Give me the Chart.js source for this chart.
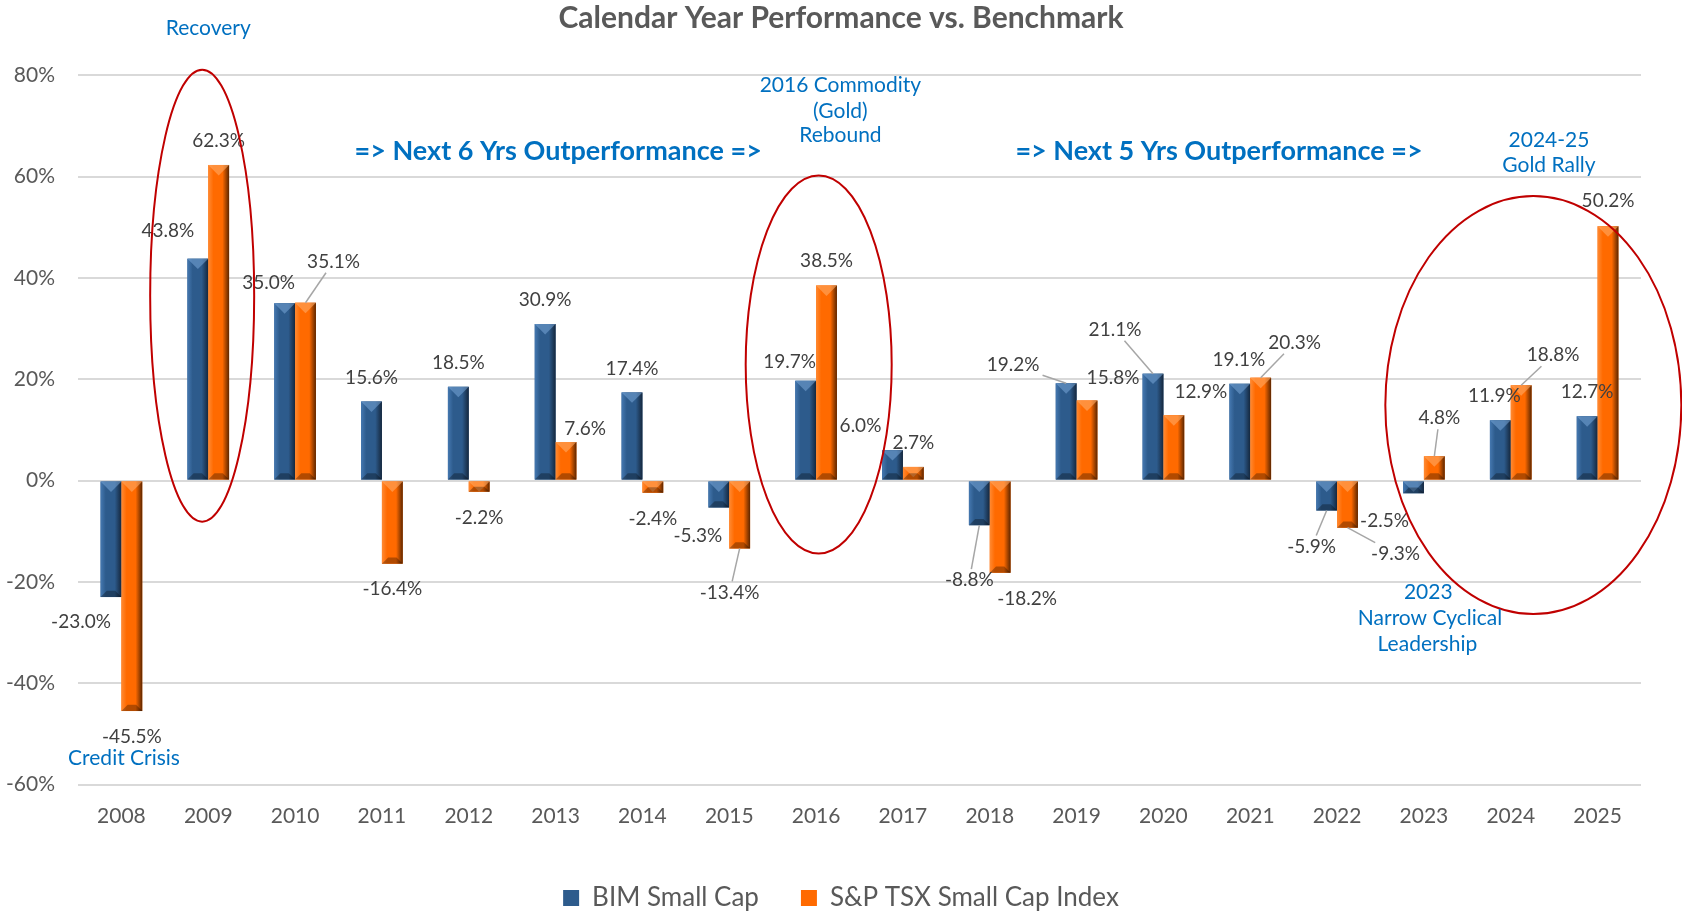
<!DOCTYPE html>
<html>
<head>
<meta charset="utf-8">
<title>Calendar Year Performance vs. Benchmark</title>
<script src="https://cdn.jsdelivr.net/npm/chart.js@4.4.1/dist/chart.umd.min.js"></script>
<style>
    html, body { margin: 0; padding: 0; background: #fff; }
    canvas { display: block; }
</style>
</head>
<body>
<canvas id="perf" width="1682" height="911"></canvas>
<script>
const years = ["2008", "2009", "2010", "2011", "2012", "2013", "2014", "2015", "2016",
    "2017", "2018", "2019", "2020", "2021", "2022", "2023", "2024", "2025"];
const bimSmallCap = [-23.0, 43.8, 35.0, 15.6, 18.5, 30.9, 17.4, -5.3, 19.7,
    6.0, -8.8, 19.2, 21.1, 19.1, -5.9, -2.5, 11.9, 12.7];
const tsxSmallCap = [-45.5, 62.3, 35.1, -16.4, -2.2, 7.6, -2.4, -13.4, 38.5,
    2.7, -18.2, 15.8, 12.9, 20.3, -9.3, 4.8, 18.8, 50.2];
const yMin = -60;
const yMax = 80;
const yStep = 20;

// label offsets from the bar end [dx, dy, leader line]
const bimLabelPos = [
    [-30, 25], [-30, -28], [-16, -20], [0, -24], [0, -24], [0, -24], [0, -24], [-21, 28], [-16, -19],
    [-32, -24], [-10, 55, true], [-53, -18, true], [-38, -44, true], [-1, -24], [-15, 36, true], [-29, 28], [-6, -24], [0, -24]
];
const tsxLabelPos = [
    [0, 26], [0, -24], [28, -41, true], [0, 25], [0, 26], [19, -13], [0, 26], [-10, 44, true], [0, -25],
    [0, -24], [27, 26], [26, -23], [27, -23], [34, -35, true], [48, 26, true], [5, -38, true], [32, -30, true], [0, -25]
];

// callouts: x in category index, y in %
const notes = [
    { text: "Recovery", x: 1, y: 89.2 },
    { text: "Credit Crisis", x: 0.03, y: -54.9 },
    { text: "2016 Commodity", x: 8.28, y: 78.0 },
    { text: "(Gold)", x: 8.28, y: 72.9 },
    { text: "Rebound", x: 8.28, y: 68.1 },
    { text: "=> Next 6 Yrs Outperformance =>", x: 5.03, y: 64.9, bold: true },
    { text: "=> Next 5 Yrs Outperformance =>", x: 12.64, y: 64.9, bold: true },
    { text: "2024-25", x: 16.44, y: 67.2 },
    { text: "Gold Rally", x: 16.44, y: 62.2 },
    { text: "2023", x: 15.05, y: -22.1 },
    { text: "Narrow Cyclical", x: 15.07, y: -27.2 },
    { text: "Leadership", x: 15.04, y: -32.4 }
];
const rings = [
    { x: 0.93, y: 36.5, rx: 52, ry: 226 },
    { x: 8.03, y: 22.9, rx: 73, ry: 189 },
    { x: 16.26, y: 14.9, rx: 148, ry: 209 }
];

Chart.defaults.font.family = "Lato, 'Open Sans', sans-serif";

const shades = [
    { light: "#4578b0", main: "#2d5b8c", dark: "#15273d", top: "rgba(120,165,215,0.55)" },
    { light: "#ff8a33", main: "#ff6a00", dark: "#5c2600", top: "rgba(255,170,100,0.6)" }
];

const bevelPlugin = {
    id: "bevel",
    afterDatasetsDraw(chart) {
        const ctx = chart.ctx;
        chart.data.datasets.forEach((ds, d) => {
            const meta = chart.getDatasetMeta(d);
            const c = shades[d];
            meta.data.forEach(bar => {
                const { x, y, base, width } = bar.getProps(["x", "y", "base", "width"], true);
                const left = x - width / 2, right = x + width / 2;
                const top = Math.min(y, base), bottom = Math.max(y, base);
                const h = bottom - top;
                if (h <= 0) return;
                ctx.save();
                const g = ctx.createLinearGradient(left, 0, right, 0);
                g.addColorStop(0, c.light);
                g.addColorStop(0.25, c.main);
                g.addColorStop(0.68, c.main);
                g.addColorStop(1, c.dark);
                ctx.fillStyle = g;
                ctx.fillRect(left, top, width, h);
                // top bevel
                ctx.beginPath();
                ctx.moveTo(left, top);
                ctx.lineTo(right, top);
                ctx.lineTo(x, top + Math.min(width / 2, h));
                ctx.closePath();
                ctx.fillStyle = c.top;
                ctx.fill();
                // bottom bevel
                const b = Math.min(width * 0.3, h / 2);
                ctx.beginPath();
                ctx.moveTo(left, bottom);
                ctx.lineTo(right, bottom);
                ctx.lineTo(right - b, bottom - b);
                ctx.lineTo(left + b, bottom - b);
                ctx.closePath();
                ctx.fillStyle = "rgba(0,0,0,0.3)";
                ctx.fill();
                ctx.restore();
            });
        });
    }
};

const labelPlugin = {
    id: "valueLabels",
    afterDatasetsDraw(chart) {
        const ctx = chart.ctx;
        ctx.save();
        ctx.font = "19px Lato";
        ctx.textAlign = "center";
        ctx.textBaseline = "middle";
        chart.data.datasets.forEach((ds, d) => {
            const meta = chart.getDatasetMeta(d);
            const pos = d === 0 ? bimLabelPos : tsxLabelPos;
            meta.data.forEach((bar, i) => {
                const [dx, dy, lead] = pos[i];
                const text = ds.data[i].toFixed(1) + "%";
                const lx = bar.x + dx, ly = bar.y + dy;
                if (lead) {
                    const vx = bar.x - lx, vy = bar.y - ly;
                    const hw = ctx.measureText(text).width / 2 + 3, hh = 11;
                    const t = Math.min(vx ? hw / Math.abs(vx) : 99, vy ? hh / Math.abs(vy) : 99);
                    ctx.strokeStyle = "#a6a6a6";
                    ctx.lineWidth = 1.5;
                    ctx.beginPath();
                    ctx.moveTo(bar.x, bar.y);
                    ctx.lineTo(lx + vx * t, ly + vy * t);
                    ctx.stroke();
                }
                ctx.fillStyle = "#404040";
                ctx.fillText(text, lx, ly);
            });
        });
        ctx.restore();
    }
};

const notesPlugin = {
    id: "notes",
    afterDraw(chart) {
        const ctx = chart.ctx;
        const xs = chart.scales.x, ys = chart.scales.y;
        ctx.save();
        rings.forEach(r => {
            ctx.beginPath();
            ctx.ellipse(xs.getPixelForValue(r.x), ys.getPixelForValue(r.y), r.rx, r.ry, 0, 0, Math.PI * 2);
            ctx.strokeStyle = "#c00000";
            ctx.lineWidth = 2;
            ctx.stroke();
        });
        ctx.textAlign = "center";
        ctx.textBaseline = "middle";
        ctx.fillStyle = "#0070c0";
        notes.forEach(n => {
            ctx.font = n.bold ? "bold 27px Lato" : "21px Lato";
            ctx.fillText(n.text, xs.getPixelForValue(n.x), ys.getPixelForValue(n.y));
        });
        ctx.restore();
    }
};

new Chart(document.getElementById("perf"), {
    type: "bar",
    plugins: [bevelPlugin, labelPlugin, notesPlugin],
    data: {
        labels: years,
        datasets: [{
            label: "BIM Small Cap",
            data: bimSmallCap,
            backgroundColor: "#2d5b8c",
            borderWidth: 0
        }, {
            label: "S&P TSX Small Cap Index",
            data: tsxSmallCap,
            backgroundColor: "#ff6a00",
            borderWidth: 0
        }]
    },
    options: {
        responsive: false,
        animation: false,
        layout: {
            padding: { top: 0, right: 0, bottom: -10, left: 0 }
        },
        datasets: {
            bar: { categoryPercentage: 0.48, barPercentage: 1 }
        },
        scales: {
            x: {
                grid: { display: false, drawTicks: false },
                border: { display: false },
                ticks: { color: "#595959", font: { size: 21 }, padding: 19 },
                afterFit: s => { s.height = 58.5; }
            },
            y: {
                min: yMin,
                max: yMax,
                grid: { color: "#d9d9d9", lineWidth: 2, drawTicks: false },
                border: { display: false },
                ticks: {
                    stepSize: yStep,
                    color: "#595959",
                    font: { size: 21 },
                    padding: 23,
                    callback: v => v + "%"
                },
                afterFit: s => { s.width = 78; }
            },
            // empty right margin so the title stays centred on the page
            gap: {
                position: "right",
                grid: { display: false, drawTicks: false },
                border: { display: false },
                ticks: { display: false },
                afterFit: s => { s.width = 41; }
            }
        },
        plugins: {
            title: {
                display: true,
                text: "Calendar Year Performance vs. Benchmark",
                color: "#595959",
                font: { size: 30, weight: "bold" },
                padding: { top: 0, bottom: 39.3 }
            },
            legend: {
                position: "bottom",
                labels: {
                    color: "#595959",
                    font: { size: 26 },
                    boxWidth: 16,
                    boxHeight: 16,
                    padding: 42
                }
            },
            tooltip: { enabled: false }
        }
    }
});
</script>
</body>
</html>
